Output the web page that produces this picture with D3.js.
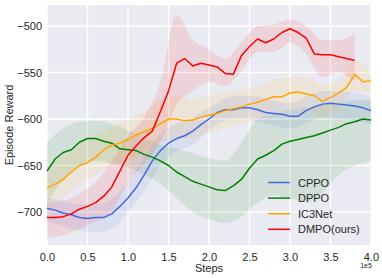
<!DOCTYPE html>
<html>
<head>
<meta charset="utf-8">
<script src="https://cdn.jsdelivr.net/npm/d3@7"></script>
<style>
  body { margin: 0; background: #fff; }
  text { font-family: "Liberation Sans", Arial, sans-serif; fill: #262626; }
</style>
</head>
<body>
<script>
// steps in units of 1e5
var steps = d3.range(0, 41).map(function(i) { return i / 10; });
var bandSteps = d3.range(0, 21).map(function(i) { return i / 5; });

var names = ["CPPO", "DPPO", "IC3Net", "DMPO(ours)"];
var colors = ["#4169e1", "#008000", "#ffa500", "#ff0000"];

var cppo = [-696,-698,-701,-703,-706,-707,-706,-706,-702,-694,-685,-674,-660,-645,-634,-626,-621,-618,-613,-606,
            -600,-593,-590,-590,-588,-588,-590,-593,-594,-595,-597,-597,-591,-587,-584,-583,-584,-585,-586,-588,-591];
var dppo = [-656,-643,-636,-633,-625,-621,-621,-624,-626,-632,-633,-634,-638,-641,-645,-650,-657,-662,-667,-670,
            -673,-676,-677,-672,-665,-653,-643,-639,-634,-627,-624,-622,-620,-618,-615,-612,-609,-605,-603,-600,-601];
var ic3net = [-674,-670,-665,-657,-650,-647,-641,-633,-628,-626,-622,-617,-614,-610,-605,-600,-600,-602,-601,-598,
              -596,-594,-591,-589,-587,-584,-582,-579,-576,-576,-572,-571,-573,-575,-581,-577,-572,-566,-552,-560,-559];
var dmpo = [-706,-706,-705,-702,-697,-694,-690,-683,-673,-656,-639,-629,-620,-613,-592,-570,-540,-535,-543,-540,
            -542,-544,-551,-552,-532,-522,-514,-518,-514,-507,-503,-507,-513,-530,-531,-531,-533,-535,-537,null,null];

// shaded spread, read at 0.2 steps
var cppoHi = [-685,-688,-692,-692,-686,-668,-642,-615,-605,-598,-588,-578,-575,-576,-580,-583,-576,-570,-570,-572,-576];
var cppoLo = [-710,-715,-720,-722,-718,-700,-678,-650,-635,-628,-612,-602,-600,-603,-607,-610,-605,-598,-600,-602,-606];
var dppoHi = [-625,-610,-603,-602,-605,-612,-620,-628,-632,-637,-642,-645,-625,-600,-595,-590,-588,-585,-583,-580,-580];
var dppoLo = [-690,-665,-650,-645,-648,-652,-660,-670,-685,-700,-708,-712,-705,-690,-682,-685,-690,-680,-660,-650,-645];
var ic3Hi = [-650,-640,-628,-618,-608,-600,-592,-580,-575,-578,-575,-572,-568,-565,-558,-555,-555,-562,-558,-538,-548];
var ic3Lo = [-695,-685,-670,-660,-650,-645,-635,-625,-622,-620,-615,-610,-605,-600,-595,-592,-590,-598,-590,-570,-570];
var dmpoHi = [-690,-688,-680,-668,-645,-618,-598,-560,-488,-515,-525,-535,-518,-500,-498,-493,-500,-515,-515,-508,null];
var dmpoLo = [-728,-725,-718,-710,-700,-668,-648,-625,-585,-570,-560,-565,-548,-528,-528,-518,-530,-555,-550,-560,null];

var xTicks = [0, 0.5, 1, 1.5, 2, 2.5, 3, 3.5, 4];
var yTicks = [-700, -650, -600, -550, -500];

var series = [
  {name: names[0], color: colors[0], mean: cppo, hi: cppoHi, lo: cppoLo},
  {name: names[1], color: colors[1], mean: dppo, hi: dppoHi, lo: dppoLo},
  {name: names[2], color: colors[2], mean: ic3net, hi: ic3Hi, lo: ic3Lo},
  {name: names[3], color: colors[3], mean: dmpo, hi: dmpoHi, lo: dmpoLo}
];

var W = 382, H = 278;
var margin = {left: 47, right: 11, top: 5, bottom: 33};

var svg = d3.select("body").append("svg")
    .attr("width", W)
    .attr("height", H);

var x = d3.scaleLinear().domain([0, 4]).range([margin.left, W - margin.right]);
var y = d3.scaleLinear().domain([-735.5, -477.4]).range([H - margin.bottom, margin.top]);

// background
svg.append("rect")
    .attr("x", margin.left).attr("y", margin.top)
    .attr("width", W - margin.left - margin.right)
    .attr("height", H - margin.top - margin.bottom)
    .attr("fill", "#eaeaf2");

// grid
svg.append("g").selectAll("line").data(xTicks).enter().append("line")
    .attr("x1", function(d) { return x(d); }).attr("x2", function(d) { return x(d); })
    .attr("y1", margin.top).attr("y2", H - margin.bottom)
    .attr("stroke", "#fff").attr("stroke-width", 1.4);
svg.append("g").selectAll("line").data(yTicks).enter().append("line")
    .attr("x1", margin.left).attr("x2", W - margin.right)
    .attr("y1", function(d) { return y(d); }).attr("y2", function(d) { return y(d); })
    .attr("stroke", "#fff").attr("stroke-width", 1.4);

var area = d3.area()
    .defined(function(d) { return d.hi != null; })
    .x(function(d) { return x(d.x); })
    .y0(function(d) { return y(d.lo); })
    .y1(function(d) { return y(d.hi); })
    .curve(d3.curveMonotoneX);

var line = d3.line()
    .defined(function(d) { return d.v != null; })
    .x(function(d) { return x(d.x); })
    .y(function(d) { return y(d.v); });

// bands
series.forEach(function(s) {
  var pts = bandSteps.map(function(t, i) { return {x: t, hi: s.hi[i], lo: s.lo[i]}; });
  svg.append("path")
      .attr("d", area(pts))
      .attr("fill", s.color)
      .attr("fill-opacity", 0.1);
});

// lines
series.forEach(function(s) {
  var pts = steps.map(function(t, i) { return {x: t, v: s.mean[i]}; });
  svg.append("path")
      .attr("d", line(pts))
      .attr("fill", "none")
      .attr("stroke", s.color)
      .attr("stroke-width", 1.5)
      .attr("stroke-linejoin", "round");
});

// axes
var xAxis = d3.axisBottom(x).tickValues(xTicks).tickSize(0).tickPadding(8)
    .tickFormat(d3.format(".1f"));
var gx = svg.append("g")
    .attr("transform", "translate(0," + (H - margin.bottom) + ")")
    .call(xAxis);
var yAxis = d3.axisLeft(y).tickValues(yTicks).tickSize(0).tickPadding(5)
    .tickFormat(function(d) { return "\u2212" + Math.abs(d); });
var gy = svg.append("g")
    .attr("transform", "translate(" + margin.left + ",0)")
    .call(yAxis);
[gx, gy].forEach(function(g) {
  g.select(".domain").remove();
  g.selectAll("text").attr("font-size", 11).attr("fill", "#262626")
      .attr("font-family", "Liberation Sans, Arial, sans-serif");
});

svg.append("text")
    .attr("x", (margin.left + W - margin.right) / 2)
    .attr("y", 272)
    .attr("text-anchor", "middle")
    .attr("font-size", 11)
    .text("Steps");

svg.append("text")
    .attr("x", 366).attr("y", 268)
    .attr("text-anchor", "middle")
    .attr("font-size", 7)
    .text("1e5");

svg.append("text")
    .attr("transform", "translate(13," + ((margin.top + H - margin.bottom) / 2) + ") rotate(-90)")
    .attr("text-anchor", "middle")
    .attr("font-size", 11)
    .text("Episode Reward");

// legend
var legend = svg.append("g")
    .selectAll("g")
    .data(series)
    .enter().append("g")
    .attr("transform", function(d, i) { return "translate(268," + (182.5 + i * 15.6) + ")"; });
legend.append("line")
    .attr("x1", 0).attr("x2", 22)
    .attr("stroke", function(d) { return d.color; })
    .attr("stroke-width", 1.5);
legend.append("text")
    .attr("x", 30).attr("y", 4)
    .attr("font-size", 11)
    .text(function(d) { return d.name; });
</script>
</body>
</html>
